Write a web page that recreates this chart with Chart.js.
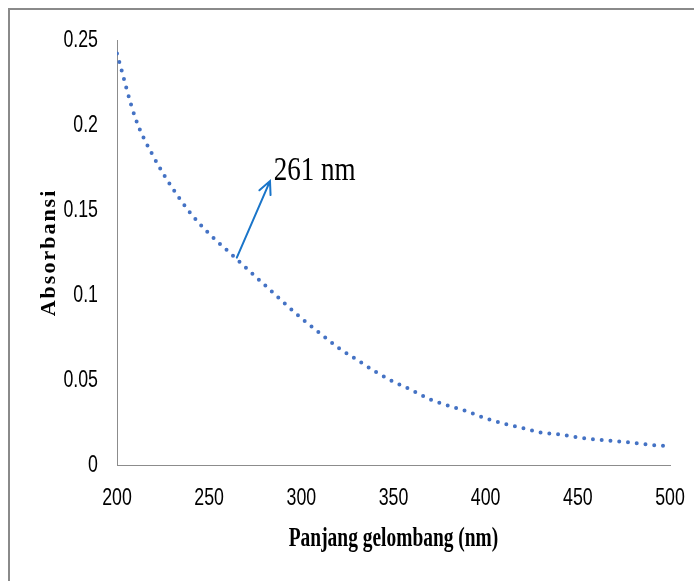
<!DOCTYPE html>
<html>
<head>
<meta charset="utf-8">
<title>Absorbansi</title>
<script src="https://cdn.jsdelivr.net/npm/chart.js"></script>
<style>
  html, body { margin: 0; padding: 0; background: #fff; }
  #wrap { position: relative; width: 694px; height: 581px; overflow: hidden; }
  #frame { position: absolute; left: 8px; top: 8px; width: 720px; height: 620px;
           border: 2px solid #8a8a8a; box-sizing: border-box; }
  canvas { position: absolute; left: 0; top: 0; }
</style>
</head>
<body>
<div id="wrap">
  <div id="frame"></div>
  <canvas id="absChart" width="694" height="581"></canvas>
</div>
<script>
// Data spektrum
const wavelengths = [200, 210, 220, 230, 240, 250, 260, 270, 280, 290,
                     300, 310, 320, 330, 340, 350, 360, 370, 380, 390,
                     400, 410, 420, 430, 440, 450, 460, 470, 480, 490, 500];
const absorbance = [0.242, 0.204, 0.181, 0.163, 0.148, 0.136, 0.126, 0.116, 0.106, 0.096,
                    0.0864, 0.0776, 0.069, 0.062, 0.055, 0.049, 0.044, 0.0385, 0.0348, 0.0315,
                    0.0275, 0.0243, 0.0217, 0.0191, 0.018, 0.0163, 0.015, 0.0141, 0.013, 0.0118, 0.011];
const xTicks = [200, 250, 300, 350, 400, 450, 500];
const yTicks = [0, 0.05, 0.1, 0.15, 0.2, 0.25];

// Anotasi puncak
const peakLabel = '261 nm';
const arrowFrom = [265, 0.122];
const arrowTo = [283, 0.167];
const labelAt = [285, 0.1676];

const xTitle = 'Panjang gelombang (nm)';
const yTitle = 'Absorbansi';

// Teks dengan huruf yang dipersempit (seperti di gambar asli)
function narrowText(ctx, text, x, y, sx, font, align, baseline) {
    ctx.save();
    ctx.fillStyle = '#000';
    ctx.font = font;
    ctx.textAlign = align;
    ctx.textBaseline = baseline;
    ctx.translate(x, y);
    ctx.scale(sx, 1);
    ctx.fillText(text, 0, 0);
    ctx.restore();
}

// Plugin untuk label sumbu, judul sumbu dan panah anotasi
const textPlugin = {
    id: 'textPlugin',
    afterDraw(chart) {
        const { ctx, chartArea, scales } = chart;
        const sx = scales.x, sy = scales.y;
        const tickFont = '24px "Liberation Sans", Arial, sans-serif';

        // label tick
        sx.ticks.forEach(t => {
            narrowText(ctx, String(t.value), sx.getPixelForValue(t.value), chartArea.bottom + 33,
                       0.74, tickFont, 'center', 'middle');
        });
        sy.ticks.forEach(t => {
            narrowText(ctx, String(+t.value.toFixed(2)), chartArea.left - 19, sy.getPixelForValue(t.value),
                       0.74, tickFont, 'right', 'middle');
        });

        // panah
        const x0 = sx.getPixelForValue(arrowFrom[0]), y0 = sy.getPixelForValue(arrowFrom[1]);
        const x1 = sx.getPixelForValue(arrowTo[0]), y1 = sy.getPixelForValue(arrowTo[1]);
        const ang = Math.atan2(y1 - y0, x1 - x0);
        const head = 14;
        ctx.save();
        ctx.strokeStyle = '#1a75c9';
        ctx.lineWidth = 2;
        ctx.lineCap = 'round';
        ctx.beginPath();
        ctx.moveTo(x0, y0);
        ctx.lineTo(x1, y1);
        ctx.moveTo(x1 - head * Math.cos(ang - 0.45), y1 - head * Math.sin(ang - 0.45));
        ctx.lineTo(x1, y1);
        ctx.lineTo(x1 - head * Math.cos(ang + 0.45), y1 - head * Math.sin(ang + 0.45));
        ctx.stroke();
        ctx.restore();

        // label 261 nm
        narrowText(ctx, peakLabel, sx.getPixelForValue(labelAt[0]), sy.getPixelForValue(labelAt[1]),
                   0.82, '33px "Liberation Serif", "Times New Roman", serif', 'left', 'alphabetic');

        // judul sumbu x
        narrowText(ctx, xTitle, (chartArea.left + chartArea.right) / 2, chartArea.bottom + 74,
                   0.72, 'bold 27px "Liberation Serif", "Times New Roman", serif', 'center', 'middle');

        // judul sumbu y
        ctx.save();
        ctx.fillStyle = '#000';
        ctx.font = 'bold 22px "Liberation Serif", "Times New Roman", serif';
        ctx.letterSpacing = '2px';
        ctx.textAlign = 'center';
        ctx.textBaseline = 'middle';
        ctx.translate(49, (chartArea.top + chartArea.bottom) / 2);
        ctx.rotate(-Math.PI / 2);
        ctx.fillText(yTitle, 0, 0);
        ctx.restore();
    }
};

const ctx = document.getElementById('absChart').getContext('2d');
new Chart(ctx, {
    type: 'line',
    data: {
        datasets: [{
            data: wavelengths.map((w, i) => ({ x: w, y: absorbance[i] })),
            borderColor: '#4472C4',
            borderWidth: 4,
            borderDash: [0, 8.8],
            borderCapStyle: 'round',
            pointRadius: 0,
            fill: false,
            cubicInterpolationMode: 'monotone'
        }]
    },
    options: {
        responsive: false,
        animation: false,
        layout: { padding: { top: 40, right: 24, left: 0, bottom: 0 } },
        plugins: {
            legend: { display: false },
            tooltip: { enabled: false }
        },
        scales: {
            x: {
                type: 'linear',
                min: 200,
                max: 500,
                afterBuildTicks: (scale) => { scale.ticks = xTicks.map(v => ({ value: v })); },
                afterFit: (scale) => { scale.height = 116; },
                grid: { drawOnChartArea: false, drawTicks: false },
                border: { color: '#8c8c8c', width: 1 },
                ticks: { display: false }
            },
            y: {
                min: 0,
                max: 0.25,
                afterBuildTicks: (scale) => { scale.ticks = yTicks.map(v => ({ value: v })); },
                afterFit: (scale) => { scale.width = 117; },
                grid: { drawOnChartArea: false, drawTicks: false },
                border: { color: '#8c8c8c', width: 1 },
                ticks: { display: false }
            }
        }
    },
    plugins: [textPlugin]
});
</script>
</body>
</html>
